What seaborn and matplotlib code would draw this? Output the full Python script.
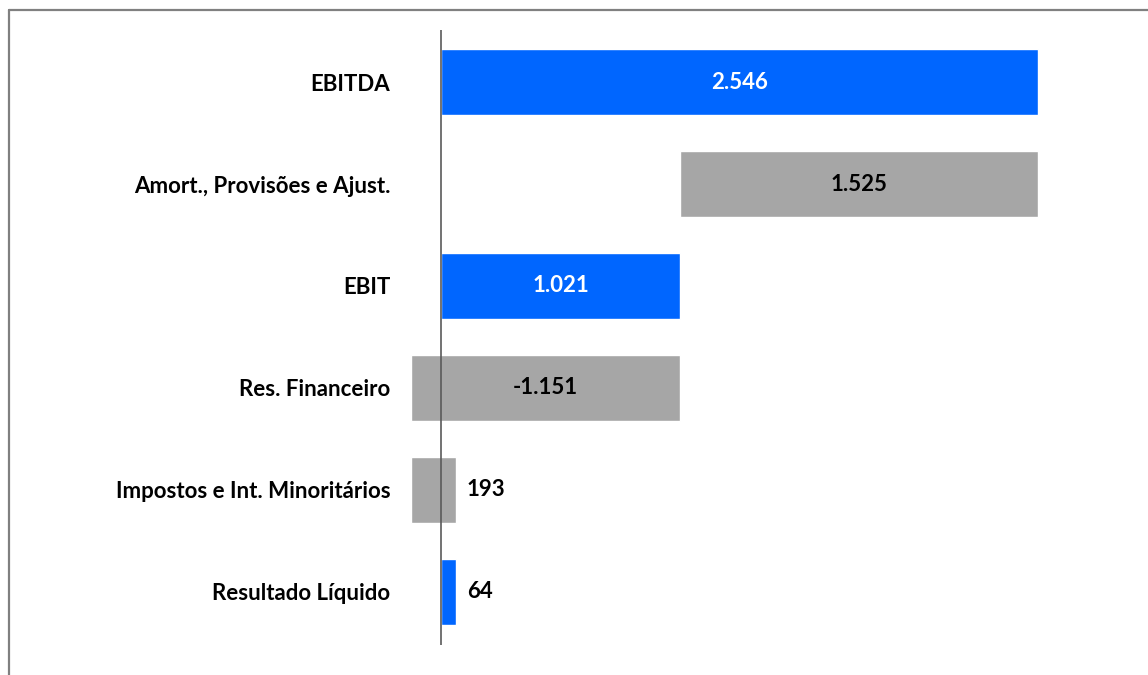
import matplotlib
matplotlib.use('Agg')
import matplotlib.pyplot as plt
from matplotlib.lines import Line2D
import seaborn as sns

# ── data ─────────────────────────────────────────────────────────────────────
labels = ["EBITDA", "Amort., Provisões e Ajust.", "EBIT", "Res. Financeiro",
          "Impostos e Int. Minoritários", "Resultado Líquido"]
values = [2546, 1525, 1021, -1151, 193, 64]          # values printed on bars
bar_start = [0, 1021, 0, -130, -130, 0]               # waterfall floor
bar_end = [2546, 2546, 1021, 1021, 64, 64]            # waterfall top
kinds = ["total", "step", "total", "step", "step", "total"]

BLUE, GRAY = "#0066FF", "#A6A6A6"
palette = {lab: (BLUE if k == "total" else GRAY) for lab, k in zip(labels, kinds)}

sns.set_theme(style="white")
plt.rcParams['font.family'] = ['Lato', 'DejaVu Sans']
plt.rcParams['font.weight'] = 'bold'
plt.rcParams['text.color'] = 'black'
plt.rcParams['ytick.color'] = 'black'

fig = plt.figure(figsize=(11.48, 6.75), dpi=100)
ax = fig.add_axes([400 / 1148, 30 / 675, 700 / 1148, 615 / 675])

widths = [e - s for s, e in zip(bar_start, bar_end)]
sns.barplot(x=widths, y=labels, hue=labels, palette=palette, order=labels,
            legend=False, errorbar=None, width=0.647, saturation=1, ax=ax)

# shift each bar to its floating start
for p, s in zip(ax.patches, bar_start):
    p.set_x(s)

ax.set_xlim(-174.8, 2810.4)
ax.set_ylim(5.52, -0.51)
ax.axvline(0, color="#5a5a5a", lw=1.2, zorder=3)

for i, (v, s, e, k) in enumerate(zip(values, bar_start, bar_end, kinds)):
    txt = f"{v:,}".replace(",", ".")
    if e - s > 600:
        ax.text((s + e) / 2, i, txt, ha="center", va="center", fontsize=16,
                fontweight="bold", color="white" if k == "total" else "black")
    else:
        ax.text(e + 47, i, txt, ha="left", va="center", fontsize=16,
                fontweight="bold", color="black")

ax.set_xlabel("")
ax.set_ylabel("")
ax.set_xticks([])
ax.tick_params(axis="y", length=0, pad=7, labelsize=16, labelcolor="black")
for t in ax.get_yticklabels():
    t.set_fontweight("bold")
for sp in ax.spines.values():
    sp.set_visible(False)

# outer frame (top and left edges visible)
fig.add_artist(Line2D([8.5 / 1148, 8.5 / 1148], [0, 1 - 9.5 / 675],
                      transform=fig.transFigure, color="#808080", lw=1.6))
fig.add_artist(Line2D([8.5 / 1148, 1], [1 - 9.5 / 675, 1 - 9.5 / 675],
                      transform=fig.transFigure, color="#808080", lw=1.6))

fig.savefig("out.png", dpi=100)
